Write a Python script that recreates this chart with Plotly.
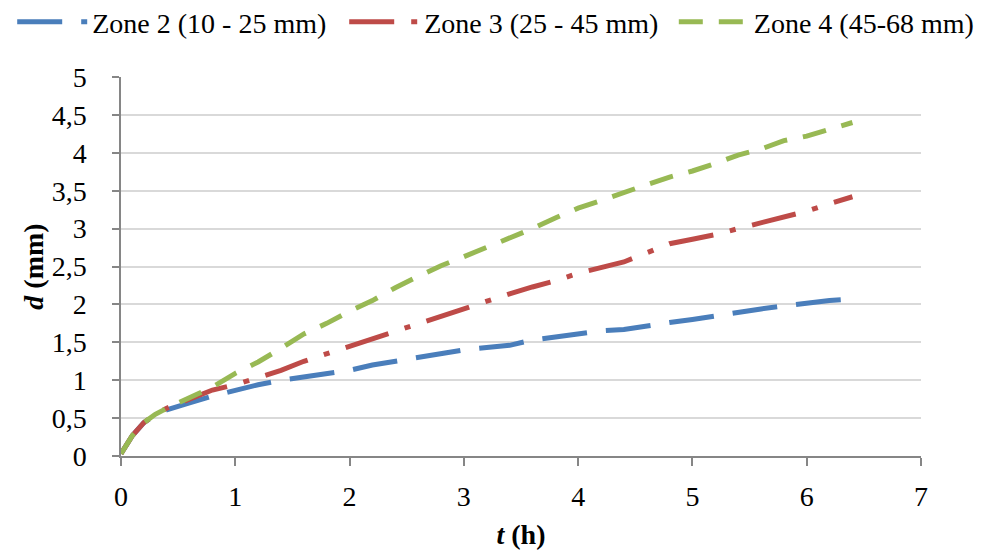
import plotly.graph_objects as go

t_h = [0, 0.05, 0.1, 0.2, 0.3, 0.4, 0.5, 0.6, 0.8, 1.0, 1.2, 1.4, 1.6, 1.8, 2.0, 2.2, 2.4,
       2.6, 2.8, 3.0, 3.2, 3.4, 3.6, 3.8, 4.0, 4.2, 4.4, 4.6, 4.8, 5.0, 5.2, 5.4, 5.6, 5.8,
       6.0, 6.2, 6.4]

zone2 = [0.03, 0.15, 0.27, 0.44, 0.54, 0.61, 0.66, 0.70, 0.79, 0.87, 0.94, 1.00, 1.04, 1.09,
         1.13, 1.20, 1.25, 1.30, 1.36, 1.40, 1.43, 1.46, 1.53, 1.57, 1.62, 1.65, 1.67, 1.72,
         1.76, 1.80, 1.85, 1.90, 1.94, 1.98, 2.02, 2.05, 2.07]

zone3 = [0.03, 0.15, 0.27, 0.44, 0.55, 0.63, 0.69, 0.75, 0.87, 0.94, 1.04, 1.13, 1.25, 1.35,
         1.45, 1.54, 1.65, 1.75, 1.84, 1.94, 2.05, 2.14, 2.23, 2.31, 2.41, 2.49, 2.56, 2.68,
         2.80, 2.86, 2.92, 3.00, 3.08, 3.16, 3.23, 3.33, 3.42]

zone4 = [0.03, 0.15, 0.27, 0.44, 0.55, 0.63, 0.70, 0.77, 0.91, 1.09, 1.24, 1.42, 1.61, 1.75,
         1.91, 2.05, 2.22, 2.37, 2.51, 2.63, 2.75, 2.88, 3.00, 3.14, 3.27, 3.37, 3.48, 3.58,
         3.68, 3.76, 3.86, 3.97, 4.05, 4.16, 4.22, 4.31, 4.40]

names = ["Zone 2 (10 - 25 mm)", "Zone 3 (25 - 45 mm)", "Zone 4 (45-68 mm)"]

y_ticks = [0, 0.5, 1, 1.5, 2, 2.5, 3, 3.5, 4, 4.5, 5]
y_tick_labels = ["0", "0,5", "1", "1,5", "2", "2,5", "3", "3,5", "4", "4,5", "5"]
x_ticks = [0, 1, 2, 3, 4, 5, 6, 7]

FONT = "Liberation Serif"
FS = 28

fig = go.Figure()
fig.add_trace(go.Scatter(x=t_h, y=zone2, mode="lines", name=names[0], legend="legend",
                         line=dict(color="#4A7EBB", width=5, dash="45px,19px")))
fig.add_trace(go.Scatter(x=t_h, y=zone3, mode="lines", name=names[1], legend="legend2",
                         line=dict(color="#BE4B48", width=5, dash="45px,17px,6px,17px")))
fig.add_trace(go.Scatter(x=t_h, y=zone4, mode="lines", name=names[2], legend="legend3",
                         line=dict(color="#98B954", width=5, dash="24px,16px")))


def leg(xpos):
    return dict(orientation="h", x=xpos, xanchor="left", y=1.145, yanchor="middle",
                font=dict(family=FONT, size=FS), itemwidth=70,
                bgcolor="rgba(0,0,0,0)")


fig.update_layout(
    width=980, height=542,
    margin=dict(l=113, r=67, t=69, b=94, autoexpand=False),
    paper_bgcolor="white", plot_bgcolor="white",
    font=dict(family=FONT, size=FS, color="black"),
    showlegend=True,
    legend=leg(-0.136),
    legend2=leg(0.279),
    legend3=leg(0.691),
    xaxis=dict(range=[0, 7], tickvals=x_ticks, showgrid=False, zeroline=False,
               automargin=False,
               showline=True, linecolor="#868686", linewidth=1.5,
               ticks="outside", ticklen=8, tickcolor="#868686", tickwidth=1.5,
               ticklabelstandoff=7,
               title=dict(text="<b><i>t</i> (h)</b>", standoff=13,
                          font=dict(family=FONT, size=FS))),
    yaxis=dict(range=[0, 5], tickvals=y_ticks, ticktext=y_tick_labels,
               automargin=False,
               showgrid=True, gridcolor="#D9D9D9", gridwidth=1.5, zeroline=False,
               showline=True, linecolor="#868686", linewidth=1.5,
               ticks="outside", ticklen=7, tickcolor="#868686", tickwidth=1.5,
               ticklabelstandoff=20,
               title=dict(text="<b><i>d</i> (mm)</b>", standoff=0,
                          font=dict(family=FONT, size=FS))),
)

fig.write_html("out.html")
